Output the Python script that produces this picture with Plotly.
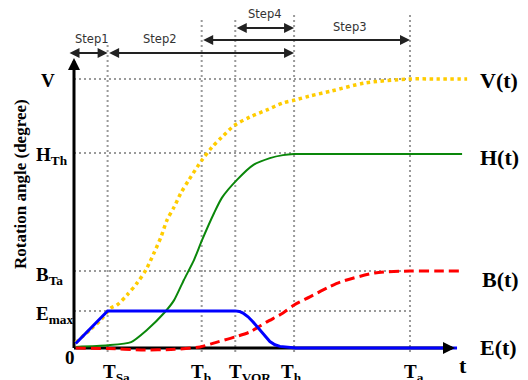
import plotly.graph_objects as go

# ---------------- data (time units, angle units) ----------------
T_SA, T_B, T_VOR, T_H, T_A = 1.0, 3.8, 4.8, 6.55, 10.0
V_MAX, H_TH, B_TA, E_MAX = 10.0, 7.25, 2.86, 1.38
T_END_AXIS, Y_END_AXIS = 11.34, 10.78

v_t = [0.05, 0.5, 0.8, 1.1, 1.28, 1.58, 1.88, 2.14, 2.38, 2.59, 2.77, 2.98, 3.18, 3.42, 3.81, 4.11, 4.40, 4.79,
       5.24, 5.74, 6.22, 6.58, 7.02, 7.65, 8.65, 10.0, 10.8, 11.7]
v_y = [0.2, 0.7, 1.05, 1.49, 1.6, 1.97, 2.42, 2.9, 3.53, 4.13, 4.76, 5.24, 5.76, 6.25, 6.99, 7.47, 7.84, 8.29,
       8.59, 8.85, 9.11, 9.22, 9.37, 9.55, 9.85, 10.0, 10.0, 10.0]

h_t = [0.05, 1.0, 1.7, 2.17, 2.68, 2.98, 3.27, 3.57, 3.81, 4.17, 4.40, 4.85, 5.33, 5.83, 6.22, 6.55, 7.5, 11.55]
h_y = [0.04, 0.1, 0.22, 0.67, 1.3, 1.78, 2.53, 3.27, 4.01, 5.02, 5.58, 6.25, 6.8, 7.06, 7.17, 7.21, 7.21, 7.21]

b_t = [0.05, 1.0, 2.0, 3.0, 3.75, 4.26, 4.79, 5.24, 5.74, 6.22, 6.55, 7.02, 7.53, 7.92, 8.95, 10.0, 10.8, 11.5]
b_y = [0.0, -0.02, -0.07, -0.05, 0.04, 0.22, 0.41, 0.6, 0.97, 1.3, 1.6, 1.9, 2.23, 2.45, 2.79, 2.86, 2.86, 2.86]

e_t = [0.05, 1.0, 4.79, 4.92, 5.03, 5.18, 5.33, 5.47, 5.6, 5.72, 5.83, 5.98, 6.13, 6.35, 6.6, 11.4]
e_y = [0.17, 1.38, 1.38, 1.36, 1.3, 1.16, 0.97, 0.78, 0.6, 0.4, 0.24, 0.12, 0.06, 0.02, 0.0, 0.0]

# ---------------- layout helpers (pixel -> data for text placement) ----------------
XS, YS = 33.6, 26.9
def px(x):
    return (x - 74) / XS
def py(y):
    return (348 - y) / YS

SERIF = "Liberation Serif"
SANS = "DejaVu Sans"
GRID = "#9a9a9a"

fig = go.Figure()

# axes as lines (below curves)
fig.add_trace(go.Scatter(x=[0, T_END_AXIS - 0.2], y=[0, 0], mode="lines",
                         line=dict(color="black", width=3), hoverinfo="skip"))
fig.add_trace(go.Scatter(x=[0, 0], y=[0, Y_END_AXIS - 0.3], mode="lines",
                         line=dict(color="black", width=3), hoverinfo="skip"))

# curves
fig.add_trace(go.Scatter(x=v_t, y=v_y, mode="lines", line=dict(color="#FFCC00", width=3.5, dash="dot", shape="spline", smoothing=0.8), hoverinfo="skip"))
fig.add_trace(go.Scatter(x=h_t, y=h_y, mode="lines", line=dict(color="#0A870A", width=2, shape="spline", smoothing=0.6), hoverinfo="skip"))
fig.add_trace(go.Scatter(x=b_t, y=b_y, mode="lines", line=dict(color="#FF0000", width=3, dash="10px,5px", shape="spline", smoothing=0.7), hoverinfo="skip"))
fig.add_trace(go.Scatter(x=e_t, y=e_y, mode="lines", line=dict(color="#0000FF", width=3), hoverinfo="skip"))

shapes = []
# vertical dotted lines
for tx, top in [(T_SA, py(45)), (T_B, py(20)), (T_VOR, py(20)), (T_H, py(13)), (T_A, py(15))]:
    shapes.append(dict(type="line", x0=tx, x1=tx, y0=py(352), y1=top, layer="below",
                       line=dict(color=GRID, width=2, dash="2px,3px")))
# horizontal dotted lines
for lv, xe in [(V_MAX, T_A), (H_TH, T_H), (B_TA, T_A), (E_MAX, T_A)]:
    shapes.append(dict(type="line", x0=0, x1=xe, y0=lv, y1=lv, layer="below",
                       line=dict(color=GRID, width=2, dash="2px,3px")))

ann = []
# axis arrowheads
ann.append(dict(x=T_END_AXIS, y=0, ax=T_END_AXIS - 0.4, ay=0, xref="x", yref="y", axref="x", ayref="y",
                text="", showarrow=True, arrowhead=2, arrowsize=0.8, arrowwidth=3, arrowcolor="black"))
ann.append(dict(x=0, y=Y_END_AXIS, ax=0, ay=Y_END_AXIS - 0.5, xref="x", yref="y", axref="x", ayref="y",
                text="", showarrow=True, arrowhead=2, arrowsize=0.8, arrowwidth=3, arrowcolor="black"))

# step arrows
for (x0, x1, yy) in [(px(68), T_SA, py(53)), (T_SA, T_H, py(53)), (T_B, T_A, py(40)), (T_VOR, T_H, py(28))]:
    ann.append(dict(x=x1, y=yy, ax=x0, ay=yy, xref="x", yref="y", axref="x", ayref="y",
                    text="", showarrow=True, arrowhead=2, startarrowhead=2, arrowside="end+start",
                    arrowsize=1, startarrowsize=1, arrowwidth=2, arrowcolor="#222222"))
for txt, xx, yy in [("Step1", 92, 39), ("Step2", 160, 39), ("Step4", 265, 14), ("Step3", 350, 27)]:
    ann.append(dict(x=px(xx), y=py(yy), xref="x", yref="y", text=txt, showarrow=False,
                    font=dict(family=SANS, size=11.5, color="#333333")))

def serif_label(txt, xx, yy, size, xanchor="center", yanchor="middle"):
    ann.append(dict(x=px(xx), y=py(yy), xref="x", yref="y", text=txt, showarrow=False,
                    xanchor=xanchor, yanchor=yanchor,
                    font=dict(family=SERIF, size=size, color="black", weight="bold")))

# left level labels
serif_label("V", 48, 80, 19)
serif_label("H<sub>Th</sub>", 34, 156, 19, xanchor="left")
serif_label("B<sub>Ta</sub>", 34, 276, 19, xanchor="left")
serif_label("E<sub>max</sub>", 34, 315, 19, xanchor="left")
serif_label("0", 70, 357, 19)

# bottom time labels
for txt, xx in [("T<sub>Sa</sub>", 101), ("T<sub>b</sub>", 189), ("T<sub>VOR</sub>", 227), ("T<sub>h</sub>", 279), ("T<sub>a</sub>", 402)]:
    serif_label(txt, xx, 359, 19, xanchor="left", yanchor="top")
serif_label("t", 463, 365, 22)

# right curve labels
serif_label("V(t)", 478, 80, 22, xanchor="left")
serif_label("H(t)", 478, 157, 22, xanchor="left")
serif_label("B(t)", 480, 279, 22, xanchor="left")
serif_label("E(t)", 478, 347, 22, xanchor="left")

# y title
ann.append(dict(x=px(20), y=py(184), xref="x", yref="y", text="Rotation angle (degree)", showarrow=False,
                textangle=-90, font=dict(family=SERIF, size=17, color="black", weight="bold")))

fig.update_layout(
    width=528, height=380, margin=dict(l=0, r=0, t=0, b=0),
    paper_bgcolor="white", plot_bgcolor="white", showlegend=False,
    xaxis=dict(range=[px(0), px(528)], visible=False, fixedrange=True),
    yaxis=dict(range=[py(380), py(0)], visible=False, fixedrange=True),
    shapes=shapes, annotations=ann,
)

fig.write_html("out.html", config={"displayModeBar": False, "staticPlot": True},
               post_script="document.body.style.margin='0';document.body.style.overflow='hidden';")
